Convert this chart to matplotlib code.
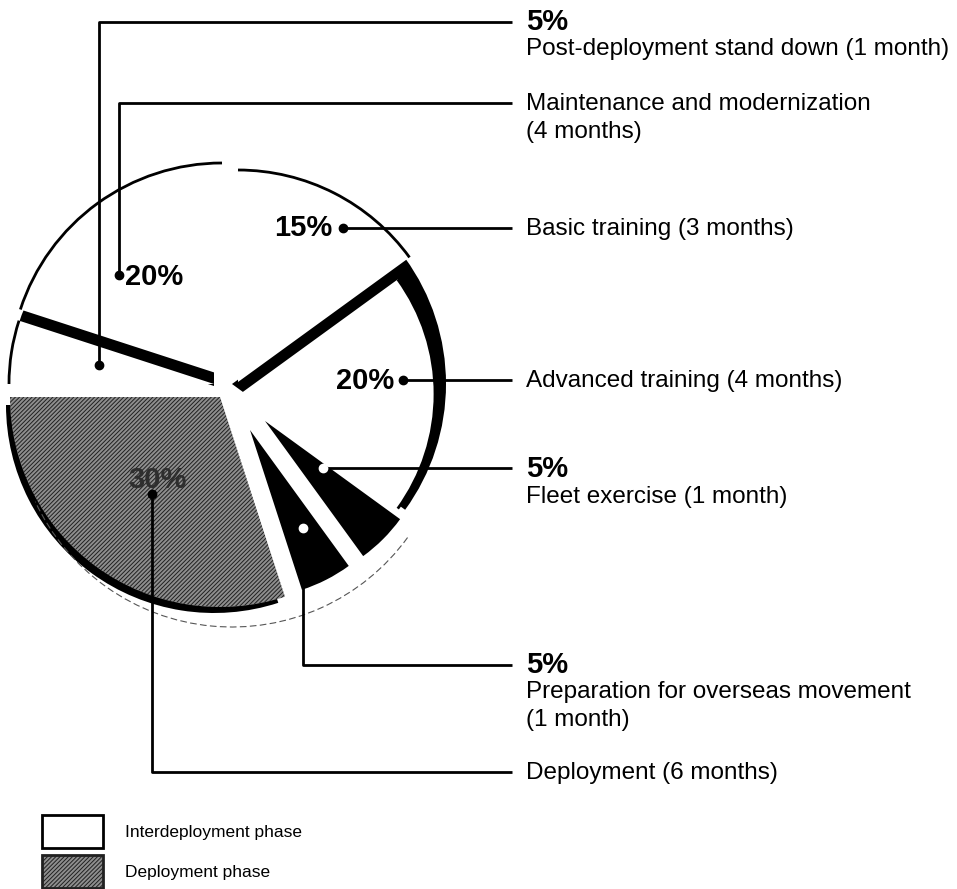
import matplotlib.pyplot as plt
from matplotlib.patches import Arc, Rectangle

plt.rcParams['font.family'] = ['Liberation Sans', 'DejaVu Sans']
plt.rcParams['hatch.linewidth'] = 0.7

# slices, clockwise from 12 o'clock
phases = ['Basic training', 'Advanced training', 'Fleet exercise',
          'Preparation for overseas movement', 'Deployment',
          'Post-deployment stand down', 'Maintenance and modernization']
shares = [15, 20, 5, 5, 30, 5, 20]
months = [3, 4, 1, 1, 6, 1, 4]
phase_type = ['Interdeployment phase', 'Interdeployment phase', 'Interdeployment phase',
              'Interdeployment phase', 'Deployment phase', 'Interdeployment phase',
              'Interdeployment phase']
legend_names = ['Interdeployment phase', 'Deployment phase']

# look of the scanned "3d" pie (pixel offsets, image coords)
hatch_grey = '#8e8e8e'
face = ['white', 'white', 'black', 'black', hatch_grey, 'white', 'white']
top_shift = [(10, -6), (12, 6), (37, 33), (22, 42), (-8, 9), (-14, -4), (-6, -13)]
top_r = [212, 195, 167, 168, 210, 205, 212]
shadow_shift = [None, (4, -4), None, None, (-14, 17), None, (-14, -2)]
shadow_r = [0, 214, 0, 0, 208, 0, 205]
C = (228, 388)
R = 212

fig = plt.figure(figsize=(9.57, 8.89), dpi=100)
ax = fig.add_axes([0, 0, 1, 1])

# shadow layer (black)
sh, _ = ax.pie(shares, radius=R, center=C, startangle=-90, counterclock=True,
               colors=['black'] * len(shares), wedgeprops=dict(linewidth=0))
for w, s, r in zip(sh, shadow_shift, shadow_r):
    if s is None:
        w.set_visible(False)
        continue
    w.set_center((C[0] + s[0], C[1] + s[1]))
    w.set_radius(r)

# top faces
top, _ = ax.pie(shares, radius=R, center=C, startangle=-90, counterclock=True,
                colors=face, wedgeprops=dict(linewidth=0))
for i, w in enumerate(top):
    cx, cy = C[0] + top_shift[i][0], C[1] + top_shift[i][1]
    w.set_center((cx, cy))
    w.set_radius(top_r[i])
    w.set_zorder(3)
    if phase_type[i] == 'Deployment phase':
        w.set_hatch('////////')
        w.set_edgecolor('#202020')
    elif face[i] == 'white':
        ax.add_patch(Arc((cx, cy), 2 * top_r[i], 2 * top_r[i], theta1=w.theta1,
                         theta2=w.theta2, color='black', lw=2, zorder=4))

# faint outline under the lower slices
ax.add_patch(Arc((C[0] + 4, C[1] + 22), 2 * R + 10, 2 * R + 10,
                 theta1=top[1].theta2, theta2=top[4].theta2 - 25,
                 color='#555555', lw=0.8, ls=(0, (6, 3)), zorder=2))

ax.set_xlim(0, 957)
ax.set_ylim(889, 0)
ax.set_aspect('auto')
ax.axis('off')

# percent labels inside the pie
big = dict(fontsize=21, fontweight='bold', zorder=6)
ax.text(332, 228, f'{shares[0]}%', ha='right', va='center', **big)
ax.text(394, 381, f'{shares[1]}%', ha='right', va='center', **big)
ax.text(125, 277, f'{shares[6]}%', ha='left', va='center', **big)
ax.text(157, 480, f'{shares[4]}%', ha='center', va='center', color='#2e2e2e',
        fontsize=21, fontweight='bold', zorder=6)

# leader lines
leaders = {
    0: [(343, 228), (512, 228)],
    1: [(403, 380), (512, 380)],
    2: [(323, 468), (512, 468)],
    3: [(303, 528), (303, 665), (512, 665)],
    4: [(152, 494), (152, 772), (512, 772)],
    5: [(99, 365), (99, 22), (512, 22)],
    6: [(119, 275), (119, 103), (512, 103)],
}
for i, pts in leaders.items():
    xs = [p[0] for p in pts]
    ys = [p[1] for p in pts]
    ax.plot(xs, ys, color='black', lw=2, zorder=5, solid_capstyle='butt')
    dot = 'white' if face[i] == 'black' else 'black'
    ax.plot(xs[0], ys[0], 'o', ms=6, color=dot, zorder=7)


def month_txt(n):
    return f'({n} month{"s" if n > 1 else ""})'


lab = dict(fontsize=17.5, va='center', zorder=6)
pct = dict(fontsize=21, fontweight='bold', va='center', zorder=6)
tx = 526

ax.text(tx, 22, f'{shares[5]}%', **pct)
ax.text(tx, 49, f'{phases[5]} {month_txt(months[5])}', **lab)
ax.text(tx, 104, phases[6], **lab)
ax.text(tx, 132, month_txt(months[6]), **lab)
ax.text(tx, 229, f'{phases[0]} {month_txt(months[0])}', **lab)
ax.text(tx, 381, f'{phases[1]} {month_txt(months[1])}', **lab)
ax.text(tx, 469, f'{shares[2]}%', **pct)
ax.text(tx, 497, f'{phases[2]} {month_txt(months[2])}', **lab)
ax.text(tx, 665, f'{shares[3]}%', **pct)
ax.text(tx, 692, phases[3], **lab)
ax.text(tx, 720, month_txt(months[3]), **lab)
ax.text(tx, 773, f'{phases[4]} {month_txt(months[4])}', **lab)

# legend
ax.add_patch(Rectangle((42, 815), 61, 33, facecolor='white', edgecolor='black', lw=2, zorder=5))
ax.add_patch(Rectangle((42, 855), 61, 33, facecolor=hatch_grey, edgecolor='#202020',
                       hatch='////////', lw=2, zorder=5))
ax.text(125, 833, legend_names[0], fontsize=12.5, va='center')
ax.text(125, 873, legend_names[1], fontsize=12.5, va='center')

fig.savefig('out.png', dpi=100)
